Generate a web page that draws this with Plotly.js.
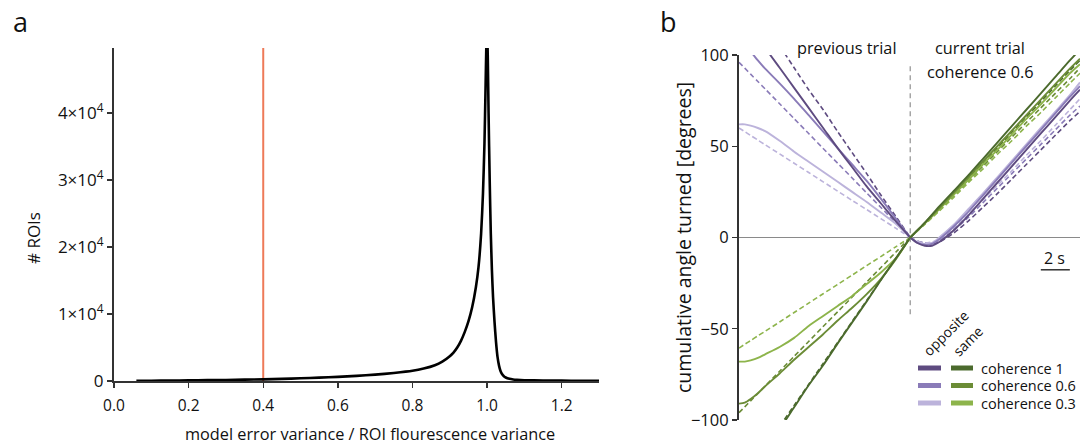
<!DOCTYPE html>
<html>
<head>
<meta charset="utf-8">
<script src="https://cdn.plot.ly/plotly-3.0.1.min.js"></script>
<style>html,body{margin:0;padding:0;background:#fff;}#chart{width:1080px;height:445px;}</style>
</head>
<body>
<div id="chart"></div>
<script>
// ---------- Panel a: histogram of variance ratio ----------
const ratioX = [0.06, 0.1, 0.15, 0.2, 0.25, 0.3, 0.35, 0.4, 0.45, 0.5, 0.55, 0.6, 0.65, 0.7, 0.75, 0.8, 0.83, 0.86, 0.88, 0.9, 0.91, 0.92, 0.93, 0.94, 0.95, 0.96, 0.97, 0.977, 0.984, 0.989, 0.993, 0.996, 0.998, 1.0, 1.002, 1.004, 1.007, 1.01, 1.013, 1.016, 1.02, 1.024, 1.028, 1.032, 1.036, 1.04, 1.045, 1.05, 1.06, 1.07, 1.08, 1.1, 1.15, 1.2, 1.25, 1.3];
const roiCounts = [20, 40, 70, 100, 130, 160, 200, 250, 320, 400, 500, 620, 770, 950, 1200, 1520, 1850, 2350, 2900, 3700, 4250, 5000, 6000, 7300, 8900, 11000, 14000, 17000, 22000, 28000, 35500, 44000, 50000, 53000, 48000, 40000, 30000, 22000, 16500, 12500, 8800, 5800, 3600, 2300, 1500, 1050, 720, 520, 320, 230, 180, 120, 70, 50, 35, 25];
const thresholdX = 0.4;
const aYTickVals = [0, 10000, 20000, 30000, 40000];
const aYTickText = ["0", "1×10<sup>4</sup>", "2×10<sup>4</sup>", "3×10<sup>4</sup>", "4×10<sup>4</sup>"];
const aXTickVals = [0, 0.2, 0.4, 0.6, 0.8, 1.0, 1.2];
const aXTickText = ["0.0", "0.2", "0.4", "0.6", "0.8", "1.0", "1.2"];

// ---------- Panel b: cumulative angle turned ----------
const tPrev = [-11.8, -11.4, -11, -10.5, -10, -9, -8, -7, -6, -5, -4, -3, -2, -1, 0];
const tCur = [0, 0.5, 1, 1.5, 2, 3, 4, 5, 6, 7, 8, 9, 10, 11, 11.7];

// opposite (purple), previous trial
const oppC1PrevSolid = [126, 121, 117, 110.5, 104, 93, 82, 71, 60, 49, 38.5, 28, 18.5, 9, 0];
const oppC1PrevDash = [137, 132.5, 128, 122, 116, 105, 93, 81, 70, 58, 46.5, 35, 23, 11.6, 0];
const oppC06PrevSolid = [110, 106, 102, 97, 92.5, 84.5, 76, 67, 58, 49, 40, 31, 21, 10.5, 0];
const oppC06PrevDash = [96, 92.8, 89.5, 85.5, 81.4, 73.3, 65.1, 57, 48.8, 40.7, 32.6, 24.4, 16.3, 8.1, 0];
const oppC03PrevSolid = [62, 62, 61.3, 60, 58.3, 53, 47, 41.5, 36, 30.5, 25, 19.5, 13.5, 7.5, 0];
const oppC03PrevDash = [60, 58, 55.9, 53.4, 50.8, 45.8, 40.7, 35.6, 30.5, 25.4, 20.3, 15.3, 10.2, 5.1, 0];
// same (green), previous trial
const sameC1PrevSolid = [-137, -132.5, -128, -122, -116, -105, -93, -81, -70, -58, -46.5, -35, -23, -11.5, 0];
const sameC1PrevDash = [-135.7, -131, -126.5, -120.8, -115, -103.5, -92, -80.5, -69, -57.5, -46, -34.5, -23, -11.5, 0];
const sameC06PrevSolid = [-91, -90.5, -88.5, -85.3, -81.5, -74.5, -67, -60, -53, -45.5, -38.5, -31, -22.5, -12, 0];
const sameC06PrevDash = [-96, -92.8, -89.5, -85.5, -81.4, -73.3, -65.1, -57, -48.8, -40.7, -32.6, -24.4, -16.3, -8.1, 0];
const sameC03PrevSolid = [-68, -68, -67.3, -66, -64, -60, -55, -48.5, -43, -37.5, -32, -25.5, -19, -11.5, 0];
const sameC03PrevDash = [-60.6, -58.5, -56.5, -53.9, -51.4, -46.3, -41.1, -36, -30.8, -25.7, -20.6, -15.4, -10.3, -5.1, 0];

// current trial (coherence 0.6)
const sameC1CurSolid = [0, 4, 8, 12.5, 17, 25.5, 34, 43, 52, 61, 70, 79, 88, 97, 103];
const sameC06CurSolid = [0, 4, 8, 12, 16, 24.5, 33, 41.5, 50, 58.5, 67, 75.5, 84, 92.5, 98];
const sameC03CurSolid = [0, 3.8, 7.6, 11.5, 15.5, 23.5, 31.5, 40, 48, 56.5, 65, 73, 81.5, 90, 95];
const sameC1CurDash = [0, 4, 8, 12, 16, 24, 32.5, 41, 49, 57.5, 66, 74.5, 83, 91.5, 97];
const sameC06CurDash = [0, 3.8, 7.5, 11.3, 15, 23, 31, 39, 47, 55, 63, 71, 79, 87, 93];
const sameC03CurDash = [0, 3.6, 7.2, 10.8, 14.5, 22, 30, 37.5, 45.5, 53, 61, 68.5, 76.5, 84.5, 90];
const oppC1CurSolid = [0, -3, -4.5, -4.5, -2.5, 4, 12, 21, 30, 39, 48, 57, 66, 75, 81];
const oppC06CurSolid = [0, -3, -4, -3.5, -1, 6, 14, 23, 32, 41, 50, 59, 68, 77, 83];
const oppC03CurSolid = [0, -2.5, -3.5, -3, 0, 7, 15.5, 24, 33, 42, 51, 60, 69, 78, 85];
const oppC1CurDash = [0, -2, -3, -3.5, -2.5, 2.5, 9, 16.5, 24, 32, 40, 48, 56, 64, 69];
const oppC06CurDash = [0, -2, -3, -3, -1.5, 4, 11, 19, 27, 35, 43, 51, 59, 67, 72];
const oppC03CurDash = [0, -2, -3, -2.5, -1, 5, 12.5, 20.5, 28.5, 36.5, 45, 53, 61.5, 70, 76];

const bYTickVals = [-100, -50, 0, 50, 100];
const legendLabels = ["coherence 1", "coherence 0.6", "coherence 0.3"];
const scaleBarT = [9.0, 11.0];
const scaleBarY = -17.7;
const stimLineY = [-42, 95];

// ---------- styling ----------
const FONT = "Open Sans, Noto Sans, sans-serif";
const oppCol = ["#5E4B80", "#8A7BB8", "#BCB3DB"];
const sameCol = ["#4B6A2D", "#6B8C36", "#8DB44B"];
const W = 1080, H = 445;
const px = v => v / W;
const py = v => 1 - v / H;

function ln(t, y, color, dash) {
  return {x: t, y: y, xaxis: "x2", yaxis: "y2", type: "scatter", mode: "lines",
    line: {color: color, width: dash ? 1.6 : 1.9, dash: dash ? "5px,3px" : "solid", shape: "spline", smoothing: 0.7},
    hoverinfo: "skip", showlegend: false};
}

const traces = [
  {x: ratioX, y: roiCounts, type: "scatter", mode: "lines", line: {color: "#000", width: 2.6, shape: "spline", smoothing: 0.6},
   xaxis: "x", yaxis: "y", showlegend: false, hoverinfo: "skip"},
  ln(tPrev, oppC1PrevDash, oppCol[0], true),
  ln(tPrev, oppC06PrevDash, oppCol[1], true),
  ln(tPrev, oppC03PrevDash, oppCol[2], true),
  ln(tPrev, sameC1PrevDash, sameCol[0], true),
  ln(tPrev, sameC06PrevDash, sameCol[1], true),
  ln(tPrev, sameC03PrevDash, sameCol[2], true),
  ln(tCur, oppC1CurDash, oppCol[0], true),
  ln(tCur, oppC06CurDash, oppCol[1], true),
  ln(tCur, oppC03CurDash, oppCol[2], true),
  ln(tCur, sameC1CurDash, sameCol[0], true),
  ln(tCur, sameC06CurDash, sameCol[1], true),
  ln(tCur, sameC03CurDash, sameCol[2], true),
  ln(tPrev, oppC03PrevSolid, oppCol[2], false),
  ln(tPrev, oppC06PrevSolid, oppCol[1], false),
  ln(tPrev, oppC1PrevSolid, oppCol[0], false),
  ln(tPrev, sameC03PrevSolid, sameCol[2], false),
  ln(tPrev, sameC06PrevSolid, sameCol[1], false),
  ln(tPrev, sameC1PrevSolid, sameCol[0], false),
  ln(tCur, oppC03CurSolid, oppCol[2], false),
  ln(tCur, oppC06CurSolid, oppCol[1], false),
  ln(tCur, oppC1CurSolid, oppCol[0], false),
  ln(tCur, sameC03CurSolid, sameCol[2], false),
  ln(tCur, sameC06CurSolid, sameCol[1], false),
  ln(tCur, sameC1CurSolid, sameCol[0], false)
];

const shapes = [
  {type: "line", xref: "x", yref: "paper", x0: thresholdX, x1: thresholdX, y0: py(381), y1: py(48),
   line: {color: "#EE7A58", width: 2}, layer: "below"},
  {type: "line", xref: "x2", yref: "y2", x0: 0, x1: 0, y0: stimLineY[0], y1: stimLineY[1],
   line: {color: "#999", width: 1.3, dash: "5px,4px"}, layer: "below"},
  {type: "line", xref: "x2", yref: "y2", x0: scaleBarT[0], x1: scaleBarT[1], y0: scaleBarY, y1: scaleBarY,
   line: {color: "#222", width: 1.4}}
];
function note(text, x, y, size, extra) {
  return Object.assign({text: text, x: px(x), y: py(y), xref: "paper", yref: "paper",
    xanchor: "center", yanchor: "middle", showarrow: false,
    font: {size: size, color: "#111", family: FONT}}, extra || {});
}
const annotations = [
  note("a", 20, 22, 27),
  note("b", 668, 22, 27),
  note("# ROIs", 33, 238, 17, {textangle: -90}),
  note("model error variance / ROI flourescence variance", 370, 434, 16.3),
  note("cumulative angle turned [degrees]", 683, 238, 19.5, {textangle: -90}),
  note("previous trial", 847, 48, 16.3),
  note("current trial", 980, 48, 16.3),
  note("coherence 0.6", 980, 72, 16.3),
  note("2 s", 1054, 258, 16),
  note("opposite", 945, 333, 14, {textangle: -45}),
  note("same", 967, 341, 14, {textangle: -45})
];
const rowsY = [368, 385.5, 403];
legendLabels.forEach((lab, i) => {
  shapes.push({type: "line", xref: "paper", yref: "paper", x0: px(918), x1: px(941), y0: py(rowsY[i]), y1: py(rowsY[i]), line: {color: oppCol[i], width: 5}});
  shapes.push({type: "line", xref: "paper", yref: "paper", x0: px(951), x1: px(973), y0: py(rowsY[i]), y1: py(rowsY[i]), line: {color: sameCol[i], width: 5}});
  annotations.push(note(lab, 979, rowsY[i], 14.5, {xanchor: "left"}));
});

const layout = {
  width: W, height: H,
  margin: {l: 0, r: 0, t: 0, b: 0},
  paper_bgcolor: "#fff", plot_bgcolor: "rgba(0,0,0,0)",
  font: {family: FONT, color: "#111", size: 14},
  showlegend: false,
  xaxis: {domain: [px(114), px(599)], range: [0, 1.3], anchor: "y",
    showline: true, linecolor: "#333", linewidth: 2, ticks: "outside", ticklen: 5, tickwidth: 1.4, tickcolor: "#333",
    tickvals: aXTickVals, ticktext: aXTickText, showgrid: false, zeroline: false, ticklabelstandoff: 4,
    tickfont: {size: 15.5, color: "#111", family: FONT}},
  yaxis: {domain: [py(381), py(48)], range: [0, 49730], anchor: "x",
    showline: true, linecolor: "#333", linewidth: 2, ticks: "outside", ticklen: 5, tickwidth: 1.4, tickcolor: "#333",
    tickvals: aYTickVals, ticktext: aYTickText, showgrid: false, zeroline: false,
    tickfont: {size: 17, color: "#111", family: FONT}},
  xaxis2: {domain: [px(739), 1], range: [-11.8, 11.7], anchor: "y2", visible: false},
  yaxis2: {domain: [py(420), py(55)], range: [-100, 100], anchor: "x2",
    showline: true, linecolor: "#333", linewidth: 2, ticks: "outside", ticklen: 5, tickwidth: 1.4, tickcolor: "#333",
    tickvals: bYTickVals, showgrid: false, zeroline: true, zerolinecolor: "#8a8a8a", zerolinewidth: 1.3,
    tickfont: {size: 16.5, color: "#111", family: FONT}},
  shapes: shapes,
  annotations: annotations
};

Plotly.newPlot("chart", traces, layout, {displayModeBar: false, staticPlot: true});
</script>
</body>
</html>
